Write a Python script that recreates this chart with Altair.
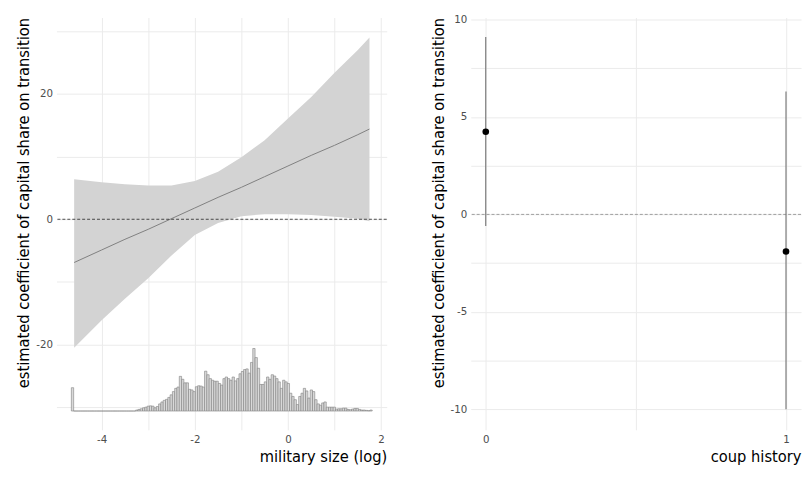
import altair as alt
import pandas as pd

# ---- left panel: marginal effect of capital share by military size ----
ribbon_x = [-4.59, -4.0, -3.5, -3.0, -2.5, -2.0, -1.5, -1.0, -0.5, 0.0, 0.5, 1.0, 1.5, 1.75]
ribbon_upper = [6.4, 5.9, 5.6, 5.4, 5.4, 6.1, 7.6, 9.9, 12.6, 16.1, 19.5, 23.4, 27.0, 29.0]
ribbon_lower = [-20.5, -16.1, -12.7, -9.4, -5.8, -2.5, -0.6, 0.5, 0.8, 0.8, 0.7, 0.4, 0.1, -0.3]
fit_y = [-6.9, -4.9, -3.2, -1.6, 0.1, 1.8, 3.5, 5.1, 6.8, 8.5, 10.2, 11.8, 13.5, 14.4]

# histogram of military size (log), bins start at -4.65, width 0.0493
hist_start = -4.65
hist_width = 0.0493
hist_counts = [72] + [0] * 27 + [
    3, 5, 7, 10, 12, 15, 16, 15, 10, 14, 22, 28, 33, 36, 42, 50, 60, 70, 74, 107,
    98, 87, 87, 67, 65, 60, 75, 78, 77, 74, 123, 112, 100, 95, 92, 92, 85, 80, 100, 105,
    100, 95, 105, 93, 100, 115, 122, 128, 130, 117, 150, 193, 165, 132, 82, 82, 90, 105,
    98, 112, 108, 100, 90, 70, 95, 90, 85, 55, 45, 35, 20, 45, 55, 70, 62, 40, 65, 60,
    35, 22, 18, 25, 28, 12, 12, 12, 12, 6, 7, 7, 9, 9, 5, 4, 6, 8, 8, 5, 3, 3, 2, 1, 3,
]
hist_base = -30.6
hist_scale = 0.0517  # data units per count

# ---- right panel: coefficient by coup history ----
coup_x = [0, 1]
coup_est = [4.24, -1.9]
coup_lo = [-0.6, -10.0]
coup_hi = [9.1, 6.3]

FONT = "'DejaVu Sans Condensed', 'Roboto Condensed', 'Liberation Sans Narrow', Roboto, sans-serif"

ribbon_df = pd.DataFrame({"x": ribbon_x, "upper": ribbon_upper, "lower": ribbon_lower, "fit": fit_y})
hist_df = pd.DataFrame({
    "x0": [hist_start + i * hist_width for i in range(len(hist_counts))],
    "x1": [hist_start + (i + 1) * hist_width for i in range(len(hist_counts))],
    "y0": [hist_base] * len(hist_counts),
    "y1": [hist_base + c * hist_scale for c in hist_counts],
})
coup_df = pd.DataFrame({"x": coup_x, "est": coup_est, "lo": coup_lo, "hi": coup_hi})
zero_df = pd.DataFrame({"y": [0]})

W, H = 334, 417

lx = alt.Scale(domain=[-4.97, 2.12], nice=False, zero=False)
ly = alt.Scale(domain=[-33.6, 32.2], nice=False, zero=False)

x_axis_left = alt.Axis(
    values=[-4, -3, -2, -1, 0, 1, 2],
    labelExpr="datum.value % 2 == 0 ? '' + datum.value : ''",
    title="military size (log)", titleAnchor="end",
)
y_axis_left = alt.Axis(
    values=[-30, -20, -10, 0, 10, 20, 30],
    labelExpr="datum.value % 20 == 0 ? '' + datum.value : ''",
    title="estimated coefficient of capital share on transition", titleAnchor="end",
)

ribbon = alt.Chart(ribbon_df).mark_area(color="#d3d3d3", opacity=1).encode(
    x=alt.X("x:Q", scale=lx, axis=x_axis_left),
    y=alt.Y("upper:Q", scale=ly, axis=y_axis_left),
    y2="lower:Q",
)
fit = alt.Chart(ribbon_df).mark_line(color="#808080", strokeWidth=1).encode(
    x=alt.X("x:Q", scale=lx), y=alt.Y("fit:Q", scale=ly)
)
zero_left = alt.Chart(zero_df).mark_rule(color="#222222", strokeDash=[3, 2], strokeWidth=0.8).encode(
    y=alt.Y("y:Q", scale=ly)
)
hist = alt.Chart(hist_df).mark_rect(fill="#d9d9d9", stroke="#808080", strokeWidth=0.6).encode(
    x=alt.X("x0:Q", scale=lx), x2="x1:Q",
    y=alt.Y("y0:Q", scale=ly), y2="y1:Q",
)
left = alt.layer(ribbon, fit, zero_left, hist).properties(width=W, height=H)

rx = alt.Scale(domain=[-0.05, 1.05], nice=False, zero=False)
ry = alt.Scale(domain=[-11.05, 10.1], nice=False, zero=False)

x_axis_right = alt.Axis(
    values=[0, 0.5, 1],
    labelExpr="datum.value == 0.5 ? '' : '' + datum.value",
    title="coup history", titleAnchor="end",
)
y_axis_right = alt.Axis(
    values=[-10, -7.5, -5, -2.5, 0, 2.5, 5, 7.5, 10],
    labelExpr="datum.value % 5 == 0 ? '' + datum.value : ''",
    title="estimated coefficient of capital share on transition", titleAnchor="end",
)

zero_right = alt.Chart(zero_df).mark_rule(color="#888888", strokeDash=[3, 2], strokeWidth=0.8).encode(
    y=alt.Y("y:Q", scale=ry)
)
bars = alt.Chart(coup_df).mark_rule(color="#707070", strokeWidth=1.1).encode(
    x=alt.X("x:Q", scale=rx, axis=x_axis_right),
    y=alt.Y("lo:Q", scale=ry, axis=y_axis_right),
    y2="hi:Q",
)
pts = alt.Chart(coup_df).mark_circle(color="black", size=45, opacity=1).encode(
    x=alt.X("x:Q", scale=rx), y=alt.Y("est:Q", scale=ry)
)
right = alt.layer(zero_right, bars, pts).properties(width=W, height=H)

chart = alt.hconcat(left, right, spacing=43).properties(
    padding={"left": 8, "top": 2, "right": 0, "bottom": 0}
).configure_view(stroke=None).configure_axis(
    domain=False, ticks=False,
    grid=True, gridColor="#ebebeb", gridWidth=1,
    labelFont=FONT, labelFontSize=11.5, labelColor="#4d4d4d", labelPadding=4,
    titleFont=FONT, titleFontSize=16.5, titleFontWeight="normal", titleColor="#000000",
    titlePadding=4,
)

chart.save("out.html", embed_options={"renderer": "svg", "actions": False})
